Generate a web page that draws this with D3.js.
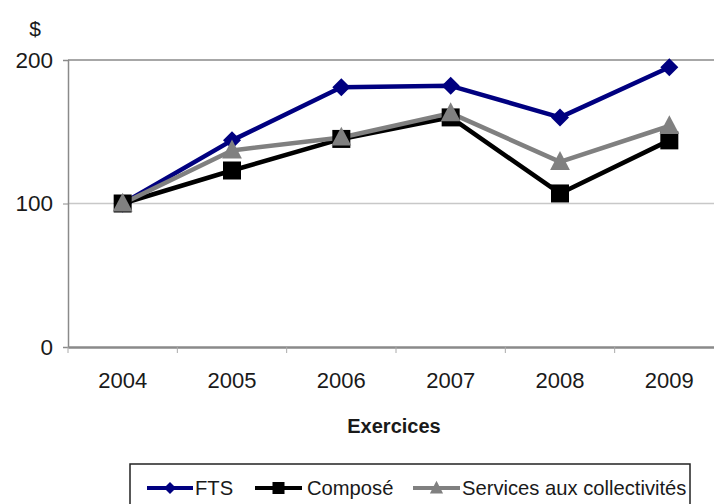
<!DOCTYPE html>
<html><head><meta charset="utf-8">
<script src="https://cdn.jsdelivr.net/npm/d3@7"></script>
<style>body{margin:0;background:#fff}svg{display:block}text{font-family:"Liberation Sans",Arial,sans-serif}</style>
</head><body>
<svg id="c" width="714" height="504"></svg>
<script>
const years = ["2004","2005","2006","2007","2008","2009"];
const fts = [100,144,181,182,160,195];
const compose = [100,123,145,160,107,144];
const services = [100,137,146,163,129,154];
const yTicks = [0,100,200];
const seriesNames = ["FTS","Composé","Services aux collectivités"];

(function(){
const svg = d3.select("#c");
const pLeft = 68, plotW = 656, pTop = 60, pBottom = 347;
const x = d3.scaleBand().domain(years).range([pLeft, pLeft + plotW]);
const y = d3.scaleLinear().domain([0,200]).range([pBottom, pTop]);
const FF = "Liberation Sans, Arial, sans-serif";

// gridlines
svg.append("g").selectAll("line").data(yTicks.filter(d=>d>0)).join("line")
  .attr("x1", pLeft).attr("x2", 714).attr("y1", d=>y(d)).attr("y2", d=>y(d))
  .attr("stroke", d=> d===200 ? "#8a8a8a" : "#c8c8c8").attr("stroke-width", 1.5);

// y axis
const ya = svg.append("g").attr("transform", `translate(${pLeft},0)`)
  .call(d3.axisLeft(y).tickValues(yTicks).tickSize(5).tickPadding(10));
ya.select(".domain").attr("stroke","#8a8a8a").attr("stroke-width",1.5);
ya.selectAll(".tick line").attr("stroke","#8a8a8a");
ya.selectAll("text").attr("font-size",22.5).attr("fill","#1a1a1a").attr("font-family",FF);

// x axis
const xa = svg.append("g").attr("transform", `translate(0,${pBottom})`)
  .call(d3.axisBottom(x).tickSize(0).tickPadding(24));
xa.select(".domain").attr("stroke","#8a8a8a").attr("stroke-width",2.5);
xa.selectAll("text").attr("font-size",22).attr("fill","#1a1a1a").attr("font-family",FF)
  .attr("dy", null).attr("y", 41);
// category boundary ticks
svg.append("g").selectAll("line").data(years).join("line")
  .attr("x1", d=>x(d)).attr("x2", d=>x(d)).attr("y1", pBottom).attr("y2", pBottom+6)
  .attr("stroke","#aaa").attr("stroke-width",1);

svg.append("text").attr("x",35).attr("y",36).attr("text-anchor","middle")
  .attr("font-size",21).attr("fill","#1a1a1a").text("$");
svg.append("text").attr("x",394).attr("y",433).attr("text-anchor","middle")
  .attr("font-size",20).attr("font-weight","bold").attr("fill","#1a1a1a").text("Exercices");

const cx = d => x(d) + x.bandwidth()/2;
const line = d3.line().x((d,i)=>cx(years[i])).y(d=>y(d));
const series = [
  {name: seriesNames[0], vals: fts, color:"#000080", shape:"diamond"},
  {name: seriesNames[1], vals: compose, color:"#000000", shape:"square"},
  {name: seriesNames[2], vals: services, color:"#808080", shape:"triangle"}
];
function marker(g, shape, color, px, py, s) {
  if (shape === "diamond") {
    g.append("path").attr("d", `M${px},${py-s}L${px+s},${py}L${px},${py+s}L${px-s},${py}Z`).attr("fill",color);
  } else if (shape === "square") {
    g.append("rect").attr("x",px-s).attr("y",py-s).attr("width",2*s).attr("height",2*s).attr("fill",color);
  } else {
    g.append("path").attr("d", `M${px},${py-s*1.2}L${px+s*1.1},${py+s*0.9}L${px-s*1.1},${py+s*0.9}Z`).attr("fill",color);
  }
}
series.forEach(s => {
  svg.append("path").datum(s.vals).attr("d", line).attr("fill","none")
    .attr("stroke", s.color).attr("stroke-width",4.5).attr("stroke-linejoin","round");
});
series.forEach(s => {
  const g = svg.append("g");
  s.vals.forEach((v,i)=> marker(g, s.shape, s.color, cx(years[i]), y(v), 9));
});

// legend
const lg = svg.append("g");
lg.append("rect").attr("x",130).attr("y",464).attr("width",560).attr("height",50)
  .attr("fill","#fff").attr("stroke","#222").attr("stroke-width",1.5);
const items = [
  {x1:147, x2:193, tx:195},
  {x1:255, x2:302, tx:307},
  {x1:413, x2:460, tx:462}
];
series.forEach((s,i) => {
  const it = items[i];
  lg.append("line").attr("x1",it.x1).attr("x2",it.x2).attr("y1",488).attr("y2",488)
    .attr("stroke",s.color).attr("stroke-width",4);
  marker(lg, s.shape, s.color, (it.x1+it.x2)/2, 488, 6);
  lg.append("text").attr("x",it.tx).attr("y",495).attr("font-size",20.2).attr("fill","#1a1a1a").text(s.name);
});
})();
</script>
</body></html>
